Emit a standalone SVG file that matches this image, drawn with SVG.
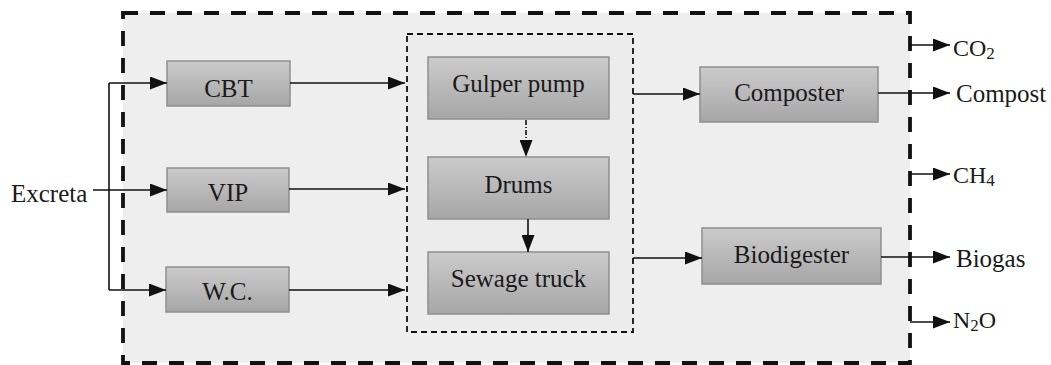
<svg xmlns="http://www.w3.org/2000/svg" width="1051" height="365" viewBox="0 0 1051 365">
<defs>
<linearGradient id="boxg" x1="0" y1="0" x2="0" y2="1">
<stop offset="0" stop-color="#cbcbcb"/>
<stop offset="1" stop-color="#a6a6a6"/>
</linearGradient>
<marker id="ah" viewBox="0 0 17 13" markerWidth="17" markerHeight="13" refX="17" refY="6.5" orient="auto" markerUnits="userSpaceOnUse">
<path d="M0,0 L17,6.5 L0,13 z" fill="#111"/>
</marker>
</defs>
<style>
.box{fill:url(#boxg);stroke:#8e8e8e;stroke-width:1.5}
.t{font-family:"Liberation Serif","Times New Roman",serif;font-size:25px;fill:#1a1a1a}
.c{text-anchor:middle}
.g{font-family:"Liberation Serif","Times New Roman",serif;font-size:24px;fill:#1a1a1a}
.sub{font-size:17px}
.ln{stroke:#111;stroke-width:1.6;fill:none}
</style>
<rect width="1051" height="365" fill="#ffffff"/>
<g id="outer-boundary">
<rect x="123" y="13" width="787" height="350" fill="#eeeeee" stroke="#111" stroke-width="3.8" stroke-dasharray="15 12"/>
</g>
<g id="transport-group">
<rect x="407" y="34" width="226" height="298" fill="#ececec" stroke="#111" stroke-width="1.8" stroke-dasharray="6 4"/>
</g>
<g id="excreta"><text class="t" x="11" y="202">Excreta</text></g>
<g id="cbt"><rect class="box" x="167" y="61" width="123" height="45"/><text class="t c" x="228.5" y="97">CBT</text></g>
<g id="vip"><rect class="box" x="167" y="168" width="122" height="44"/><text class="t c" x="228" y="201">VIP</text></g>
<g id="wc"><rect class="box" x="166" y="267" width="123" height="45"/><text class="t c" x="227.5" y="300">W.C.</text></g>
<g id="gulper"><rect class="box" x="428" y="57" width="181" height="62"/><text class="t c" x="518.5" y="92">Gulper pump</text></g>
<g id="drums"><rect class="box" x="428" y="157" width="181" height="62"/><text class="t c" x="518.5" y="193">Drums</text></g>
<g id="sewage"><rect class="box" x="428" y="252" width="181" height="62"/><text class="t c" x="518.5" y="287">Sewage truck</text></g>
<g id="composter"><rect class="box" x="700" y="67" width="178" height="55"/><text class="t c" x="789" y="101">Composter</text></g>
<g id="biodigester"><rect class="box" x="702" y="228" width="179" height="56"/><text class="t c" x="791.5" y="263">Biodigester</text></g>
<g id="compost"><text class="t" x="956" y="102">Compost</text></g>
<g id="biogas"><text class="t" x="956" y="267">Biogas</text></g>
<g id="co2"><text class="g" x="953" y="56">CO<tspan class="sub" dy="3">2</tspan></text></g>
<g id="ch4"><text class="g" x="953" y="183">CH<tspan class="sub" dy="3">4</tspan></text></g>
<g id="n2o"><text class="g" x="953" y="328">N<tspan class="sub" dy="3">2</tspan><tspan dy="-3">O</tspan></text></g>
<g id="connectors">
<path class="ln" d="M93,190 H167" marker-end="url(#ah)"/>
<path class="ln" d="M109,83 V290"/>
<path class="ln" d="M109,83 H167" marker-end="url(#ah)"/>
<path class="ln" d="M109,290 H166" marker-end="url(#ah)"/>
<path class="ln" d="M290,83 H405" marker-end="url(#ah)"/>
<path class="ln" d="M289,189 H405" marker-end="url(#ah)"/>
<path class="ln" d="M289,290 H405" marker-end="url(#ah)"/>
<path class="ln" d="M633,94 H700" marker-end="url(#ah)"/>
<path class="ln" d="M633,258 H702" marker-end="url(#ah)"/>
<path class="ln" d="M526,120 V157" stroke-dasharray="5 2 1 2" stroke-width="1.2" marker-end="url(#ah)"/>
<path class="ln" d="M528,219 V252" marker-end="url(#ah)"/>
<path class="ln" d="M878,93 H950" marker-end="url(#ah)"/>
<path class="ln" d="M881,257 H950" marker-end="url(#ah)"/>
<path class="ln" d="M910,45 H950" marker-end="url(#ah)"/>
<path class="ln" d="M910,174 H950" marker-end="url(#ah)"/>
<path class="ln" d="M910,322 H950" marker-end="url(#ah)"/>
</g>
</svg>
